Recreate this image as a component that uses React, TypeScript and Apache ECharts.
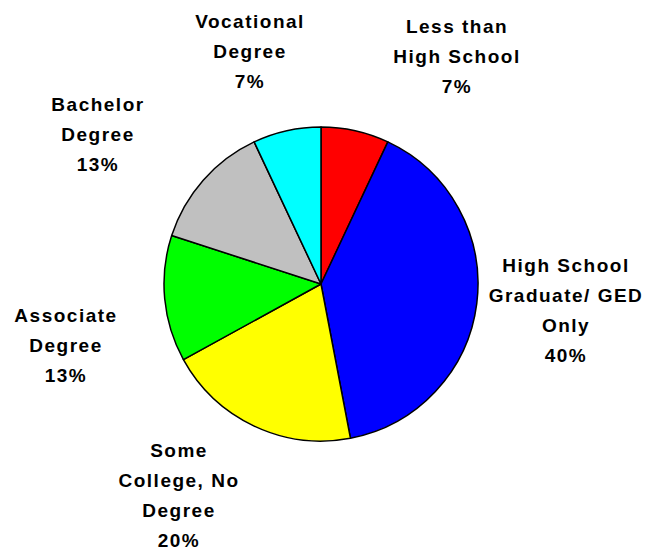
import React, { useEffect, useRef } from "react";
import * as echarts from "echarts";

const categories = [
  "Less than\nHigh School",
  "High School\nGraduate/ GED\nOnly",
  "Some\nCollege, No\nDegree",
  "Associate\nDegree",
  "Bachelor\nDegree",
  "Vocational\nDegree",
];
const values = [7, 40, 20, 13, 13, 7];
const colors = ["#FF0000", "#0000FF", "#FFFF00", "#00FF00", "#C0C0C0", "#00FFFF"];
const labelCenters = [
  [457, 56],
  [566, 310],
  [179, 495],
  [66, 345],
  [98, 134],
  [250, 51],
];

export default function App() {
  const ref = useRef<HTMLDivElement>(null);
  useEffect(() => {
    document.body.style.margin = "0";
    const chart = echarts.init(ref.current!, null, { renderer: "svg" });
    chart.setOption({
      animation: false,
      backgroundColor: "#FFFFFF",
      series: [
        {
          type: "pie",
          center: [321, 284],
          radius: 157,
          startAngle: 90,
          clockwise: true,
          avoidLabelOverlap: false,
          data: categories.map((c, i) => ({
            name: c,
            value: values[i],
            itemStyle: { color: colors[i] },
          })),
          itemStyle: { borderColor: "#000000", borderWidth: 1.5 },
          label: {
            show: true,
            position: "outside",
            formatter: "{b}\n{d}%",
            color: "#000000",
            fontFamily: "'Liberation Sans', Arial, sans-serif",
            fontWeight: "bold",
            fontSize: 19,
            lineHeight: 30,
            align: "center",
          },
          labelLine: { show: false },
          labelLayout: (params: any) => {
            const p = labelCenters[params.dataIndex];
            return { x: p[0], y: p[1], align: "center", verticalAlign: "middle" };
          },
          emphasis: { disabled: true },
        },
      ],
    });
    const texts = ref.current!.querySelectorAll("text");
    texts.forEach((t) => t.setAttribute("letter-spacing", "1.5"));
    return () => chart.dispose();
  }, []);
  return <div ref={ref} style={{ width: 663, height: 550 }} />;
}
